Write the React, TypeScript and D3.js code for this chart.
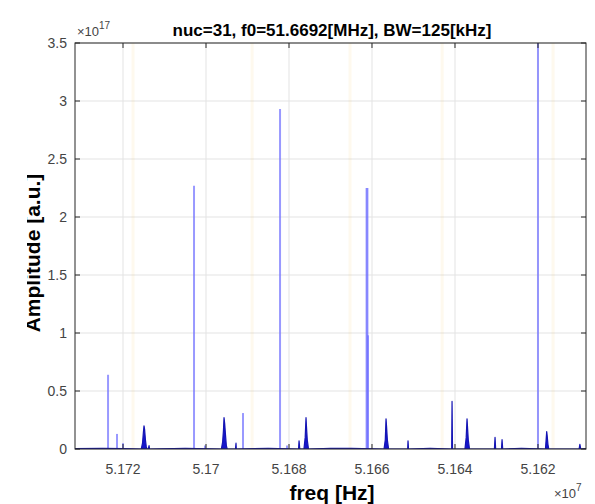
import React from "react";
import * as d3 from "d3";

// frequencies in MHz, amplitudes in units of 1e17
const xDomain = [51.73157, 51.60843];
const xTickValues = [51.72, 51.7, 51.68, 51.66, 51.64, 51.62];
const xTickLabels = ["5.172", "5.17", "5.168", "5.166", "5.164", "5.162"];
const yTickValues = [0, 0.5, 1, 1.5, 2, 2.5, 3, 3.5];
const yTickLabels = ["0", "0.5", "1", "1.5", "2", "2.5", "3", "3.5"];

// light (transparent) spectral lines
const lightFreqs = [51.72361, 51.72145, 51.72, 51.70289, 51.70024, 51.69108, 51.68216, 51.68048, 51.6613, 51.6611, 51.66096, 51.62];
const lightAmps = [0.64, 0.13, 0.05, 2.27, 0.03, 0.31, 2.93, 0.03, 2.25, 2.25, 0.98, 3.6];

// dark spectrum trace
const darkFreqs = [
  51.7316, 51.7250, 51.7200, 51.7156, 51.7153, 51.7151, 51.71494, 51.7148, 51.7146, 51.7144, 51.7142,
  51.7139, 51.71373, 51.7136, 51.7050, 51.6963, 51.6960, 51.6958, 51.69566, 51.6955, 51.6953, 51.6951, 51.6949,
  51.6929, 51.69277, 51.6927, 51.6850, 51.6777, 51.67758, 51.6774, 51.6764, 51.6761, 51.6759, 51.6758, 51.6756, 51.6753,
  51.6700, 51.6650, 51.6571, 51.6568, 51.65662, 51.6565, 51.6563, 51.6560,
  51.6514, 51.65132, 51.6512, 51.6460, 51.6408, 51.64071, 51.6406,
  51.6376, 51.6373, 51.6371, 51.6370, 51.6368, 51.6365,
  51.6305, 51.63035, 51.6302, 51.6288, 51.62866, 51.6285,
  51.6240, 51.6182, 51.6179, 51.6178, 51.6176, 51.6174,
  51.6101, 51.6099, 51.6097, 51.6084,
];
const darkAmps = [
  0.004, 0.006, 0.004, 0, 0.05, 0.14, 0.2, 0.17, 0.08, 0.02, 0,
  0, 0.03, 0, 0.006, 0, 0.06, 0.16, 0.27, 0.22, 0.12, 0.03, 0,
  0, 0.05, 0, 0.006, 0, 0.07, 0, 0, 0.1, 0.27, 0.2, 0.08, 0,
  0.006, 0.005, 0, 0.08, 0.26, 0.2, 0.08, 0,
  0, 0.07, 0, 0.005, 0, 0.41, 0,
  0, 0.1, 0.26, 0.2, 0.08, 0,
  0, 0.1, 0, 0, 0.08, 0,
  0.005, 0, 0.15, 0.12, 0.04, 0,
  0, 0.04, 0, 0.004,
];

// faint guide lines
const guideFreqs = [51.71759, 51.6889, 51.66529, 51.6431, 51.61637];

const W = 595;
const H = 504;
const M = { left: 75, right: 586, top: 43, bottom: 449 };
const FONT = "'Liberation Sans', Arial, Helvetica, sans-serif";
const AX = "#262626";

export default function App() {
  const x = d3.scaleLinear().domain(xDomain).range([M.left, M.right]);
  const y = d3.scaleLinear().domain([0, 3.5]).range([M.bottom, M.top]);

  const darkPts: [number, number][] = darkFreqs.map((f, i) => [f, darkAmps[i]]);
  darkPts.sort((a, b) => b[0] - a[0]);
  const area = d3
    .area<[number, number]>()
    .x((d) => x(d[0]))
    .y0(y(0))
    .y1((d) => y(d[1]));
  const line = d3
    .line<[number, number]>()
    .x((d) => x(d[0]))
    .y((d) => y(d[1]));

  const tickLen = 5;

  return (
    <svg
      width={W}
      height={H}
      style={{ position: "absolute", left: 0, top: 0, background: "#fff" }}
      fontFamily={FONT}
    >
      <defs>
        <clipPath id="plotclip">
          <rect x={M.left} y={M.top} width={M.right - M.left} height={M.bottom - M.top} />
        </clipPath>
        <clipPath id="ylabclip">
          <rect x={27} y={0} width={40} height={H} />
        </clipPath>
      </defs>
      <rect x={0} y={0} width={W} height={H} fill="#fff" />

      {/* grid */}
      <g stroke="#e3e3e3" strokeWidth={1}>
        {xTickValues.map((v, i) => (
          <line key={"gx" + i} x1={x(v)} x2={x(v)} y1={M.top} y2={M.bottom} />
        ))}
        {yTickValues.map((v, i) => (
          <line key={"gy" + i} x1={M.left} x2={M.right} y1={y(v)} y2={y(v)} />
        ))}
      </g>

      <g clipPath="url(#plotclip)">
        {/* faint guides */}
        {guideFreqs.map((f, i) => (
          <line key={"g" + i} x1={x(f)} x2={x(f)} y1={M.top} y2={M.bottom} stroke="#EDB120" strokeOpacity={0.08} strokeWidth={3} />
        ))}
        {/* light lines */}
        {lightFreqs.map((f, i) => (
          <line
            key={"l" + i}
            x1={x(f)}
            x2={x(f)}
            y1={y(0)}
            y2={y(lightAmps[i])}
            stroke="#6d6dff"
            strokeOpacity={0.7}
            strokeWidth={2}
          />
        ))}
        {/* dark spectrum */}
        <path d={area(darkPts) || ""} fill="#0808c8" fillOpacity={0.95} />
        <path d={line(darkPts) || ""} fill="none" stroke="#1414b4" strokeWidth={1.2} strokeLinejoin="round" />
      </g>

      {/* box */}
      <rect x={M.left} y={M.top} width={M.right - M.left} height={M.bottom - M.top} fill="none" stroke={AX} strokeWidth={1} />

      {/* ticks */}
      <g stroke={AX} strokeWidth={1}>
        {xTickValues.map((v, i) => (
          <g key={"tx" + i}>
            <line x1={x(v)} x2={x(v)} y1={M.bottom} y2={M.bottom - tickLen} />
            <line x1={x(v)} x2={x(v)} y1={M.top} y2={M.top + tickLen} />
          </g>
        ))}
        {yTickValues.map((v, i) => (
          <g key={"ty" + i}>
            <line x1={M.left} x2={M.left + tickLen} y1={y(v)} y2={y(v)} />
            <line x1={M.right} x2={M.right - tickLen} y1={y(v)} y2={y(v)} />
          </g>
        ))}
      </g>

      {/* tick labels */}
      <g fill="#444" fontSize={14}>
        {xTickValues.map((v, i) => (
          <text key={"xl" + i} x={x(v)} y={474} textAnchor="middle">
            {xTickLabels[i]}
          </text>
        ))}
        {yTickValues.map((v, i) => (
          <text key={"yl" + i} x={M.left - 8} y={y(v) + 5} textAnchor="end">
            {yTickLabels[i]}
          </text>
        ))}
      </g>

      {/* exponent labels */}
      <text x={77} y={36} fontSize={13} fill="#444">
        ×10
        <tspan dy={-7} fontSize={10}>17</tspan>
      </text>
      <text x={554} y={498} fontSize={13} fill="#444">
        ×10
        <tspan dy={-7} fontSize={10}>7</tspan>
      </text>

      {/* title */}
      <text x={332} y={36} textAnchor="middle" fontSize={17} fontWeight="bold" fill="#000">
        nuc=31, f0=51.6692[MHz], BW=125[kHz]
      </text>

      {/* axis labels */}
      <text x={332} y={500} textAnchor="middle" fontSize={21} fontWeight="bold" fill="#000">
        freq [Hz]
      </text>
      <g clipPath="url(#ylabclip)">
        <text
          transform={`translate(40,253) rotate(-90)`}
          textAnchor="middle"
          fontSize={21}
          fontWeight="bold"
          fill="#000"
        >
          Amplitude [a.u.]
        </text>
      </g>
    </svg>
  );
}
